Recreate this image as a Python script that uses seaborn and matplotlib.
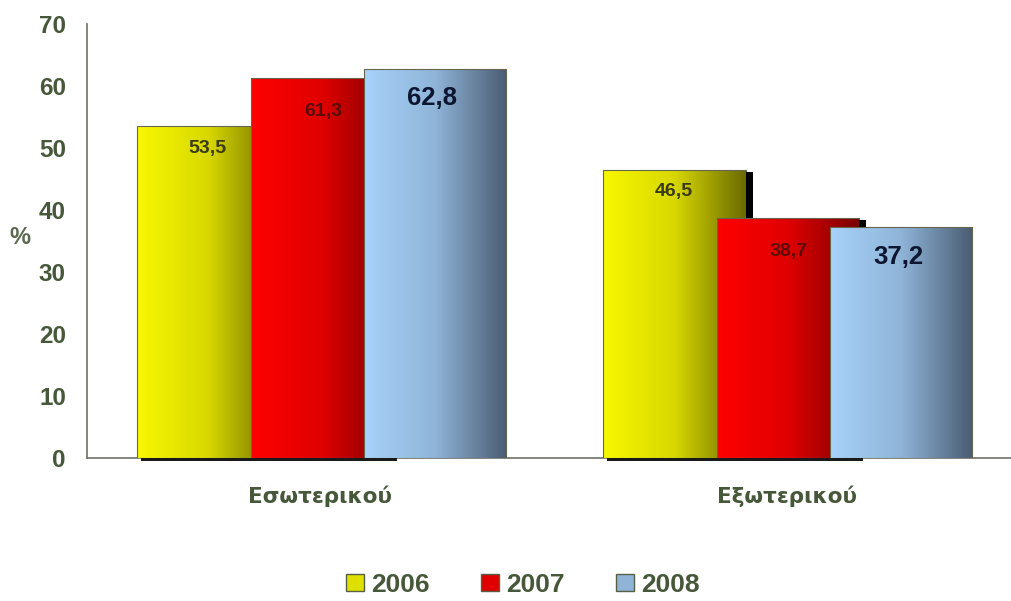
import numpy as np
import pandas as pd
import matplotlib
matplotlib.use("Agg")
import matplotlib.pyplot as plt
import seaborn as sns
from matplotlib.colors import LinearSegmentedColormap
from matplotlib.patches import Rectangle

categories = ["Εσωτερικού", "Εξωτερικού"]
years = ["2006", "2007", "2008"]
values_2006 = [53.5, 46.5]
values_2007 = [61.3, 38.7]
values_2008 = [62.8, 37.2]
value_labels_2006 = ["53,5", "46,5"]
value_labels_2007 = ["61,3", "38,7"]
value_labels_2008 = ["62,8", "37,2"]
y_ticks = [0, 10, 20, 30, 40, 50, 60, 70]

df = pd.DataFrame({
    "category": categories * 3,
    "year": [y for y in years for _ in categories],
    "value": values_2006 + values_2007 + values_2008,
})

sns.set_style("white")
plt.rcParams["font.family"] = ["Liberation Sans", "DejaVu Sans"]

text_col = "#46573a"
axis_col = "#707068"

# left-to-right gradient for each series
gradients = {
    "2006": ["#f8f800", "#d8d800", "#6a6a00"],
    "2007": ["#ff0000", "#e00000", "#780000"],
    "2008": ["#a8d2fa", "#8fb4d8", "#4a5c72"],
}
base_cols = {"2006": "#e0e000", "2007": "#e00000", "2008": "#8fb4d8"}

fig = plt.figure(figsize=(10.11, 6.01), dpi=100)
ax = fig.add_axes([0.0865, 0.238, 0.922, 0.722])

sns.barplot(data=df, x="category", y="value", hue="year", order=categories,
            hue_order=years, palette=base_cols, ax=ax, legend=False,
            saturation=1, width=0.8)

# overlapping bars: each series steps right and sits in front of the previous
bar_start = -0.393
bar_step = 0.243
bar_width = 0.305
label_x = [-0.242, 0.005, 0.24]
label_drop = [3.5, 5.4, 4.8]
shadow_w = 0.015

series_vals = [values_2006, values_2007, values_2008]
series_lbls = [value_labels_2006, value_labels_2007, value_labels_2008]

bars = list(ax.patches)
for k, yr in enumerate(years):
    cmap = LinearSegmentedColormap.from_list(yr, gradients[yr])
    z = 3 + 2 * k
    for i in range(len(categories)):
        p = bars[k * len(categories) + i]
        x0 = i + bar_start + k * bar_step
        w = bar_width
        h = p.get_height()
        p.set_x(x0)
        p.set_width(w)
        p.set_facecolor("none")
        p.set_edgecolor("#66664c")
        p.set_linewidth(0.8)
        p.set_zorder(z + 0.5)
        grad = np.linspace(0, 1, 256).reshape(1, -1)
        im = ax.imshow(grad, cmap=cmap, aspect="auto",
                       extent=[x0, x0 + w, 0, h], zorder=z)
        clip = Rectangle((x0, 0), w, h, transform=ax.transData)
        im.set_clip_path(clip)

        # dark side shadow, hidden behind the next bar where it is taller
        if yr != "2008":
            ax.add_patch(Rectangle((x0 + w, 0), shadow_w, h - 0.3,
                                   facecolor="black", edgecolor="none",
                                   zorder=z + 0.7))

        # value labels
        lbl = series_lbls[k][i]
        cx = i + label_x[k]
        cy = h - label_drop[k]
        if yr == "2008":
            ax.text(cx, cy, lbl, ha="center", va="center", fontsize=18.5,
                    fontweight="bold", color="#0c1630", zorder=10)
        elif yr == "2006":
            ax.text(cx, cy, lbl, ha="center", va="center", fontsize=14,
                    fontweight="bold", color="#3a3a12", zorder=10)
        else:
            ax.text(cx, cy, lbl, ha="center", va="center", fontsize=14,
                    fontweight="bold", color="#5a0c08", zorder=10)

# dark floor line under the bars of each group
for i in range(len(categories)):
    ax.add_patch(Rectangle((i - 0.386, -0.45), 0.55, 0.5, facecolor="#1a1a1a",
                           edgecolor="none", zorder=12, clip_on=False))

ax.set_xlim(-0.5, 1.5)
ax.set_ylim(0, 70)
ax.set_yticks(y_ticks)
ax.set_yticklabels([str(t) for t in y_ticks], fontsize=17.5,
                   fontweight="bold", color=text_col)
ax.tick_params(axis="y", length=7.5, width=1, color=axis_col, pad=8)

ax.set_xticks([0, 1])
ax.set_xticklabels(categories, fontsize=15.5, fontweight="bold",
                   color=text_col, family="DejaVu Sans")
ax.tick_params(axis="x", which="major", length=0, pad=20)
ax.set_xticks([-0.5, 0.5], minor=True)
ax.tick_params(axis="x", which="minor", length=8, width=1, color=axis_col)

ax.set_xlabel("")
ax.set_ylabel("%", rotation=0, fontsize=17, fontweight="bold",
              color="#5a6850", va="center", ha="center")
ax.yaxis.set_label_coords(-0.0724, 0.509)

for s in ["top", "right"]:
    ax.spines[s].set_visible(False)
for s in ["left", "bottom"]:
    ax.spines[s].set_color(axis_col)
    ax.spines[s].set_linewidth(1.2)

# legend
handles = []
for yr in years:
    handles.append(Rectangle((0, 0), 1, 1, facecolor=base_cols[yr],
                             edgecolor="#556045", linewidth=1))
leg = fig.legend(handles, years, loc="center", ncol=3,
                 bbox_to_anchor=(0.517, 0.027), frameon=False,
                 prop={"size": 19, "weight": "bold"}, handlelength=0.68,
                 handleheight=0.62, handletextpad=0.27, columnspacing=1.95,
                 borderpad=0.2)
for t in leg.get_texts():
    t.set_color(text_col)

fig.savefig("out.png", dpi=100)
